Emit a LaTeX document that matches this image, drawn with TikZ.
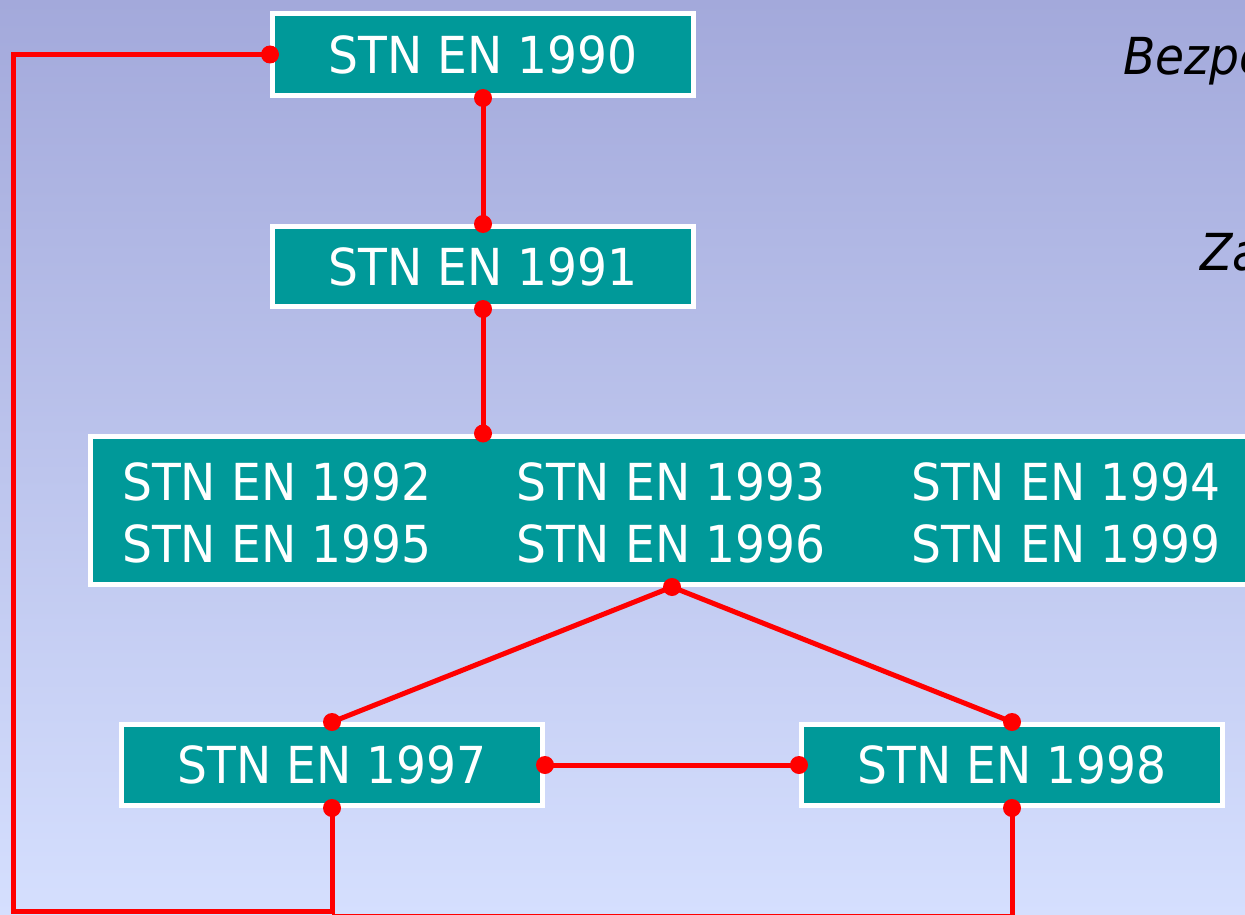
\documentclass[tikz,border=0pt]{standalone}
\usepackage{fontspec}
\setmainfont[FakeStretch=0.925]{DejaVu Sans}
\definecolor{boxteal}{RGB}{0,153,153}
\definecolor{bgtop}{RGB}{163,169,219}
\definecolor{bgmid}{RGB}{200,208,245}
\definecolor{bgbot}{RGB}{213,223,254}
\definecolor{linkred}{RGB}{255,0,0}
\tikzset{
  stnbox/.style={draw=white, line width=5pt, fill=boxteal, text=white, inner sep=0pt,
    font=\fontsize{51}{60}\selectfont},
  stntext/.style={text=white, inner sep=0pt, anchor=base west, font=\fontsize{51}{60}\selectfont},
  sidetext/.style={text=black, inner sep=0pt, anchor=base west, font=\fontsize{51}{60}\selectfont\itshape},
  link/.style={draw=linkred, line width=5pt},
  dotmark/.style={fill=linkred}
}
\begin{document}
\begin{tikzpicture}[x=1pt,y=-1pt]
\useasboundingbox (0,0) rectangle (1245,915);
\clip (0,0) rectangle (1245,915);
\shade[top color=bgtop, middle color=bgmid, bottom color=bgbot] (0,0) rectangle (1245,915);
\node[sidetext] (side1) at (1123,75) {Bezpe};
\node[sidetext] (side2) at (1200,270) {Za};
% boxes
\node[stnbox, minimum width=421pt, minimum height=82pt] (b1990) at (483,54.5) {STN EN 1990};
\node[stnbox, minimum width=421pt, minimum height=80pt] (b1991) at (483,266.5) {STN EN 1991};
\node[stnbox, minimum width=1164pt, minimum height=148.5pt] (big) at (672,510.25) {};
\node[stntext] (t1992) at (122,500) {STN EN 1992};
\node[stntext] (t1993) at (516,500) {STN EN 1993};
\node[stntext] (t1994) at (911,500) {STN EN 1994};
\node[stntext] (t1995) at (122,562) {STN EN 1995};
\node[stntext] (t1996) at (516,562) {STN EN 1996};
\node[stntext] (t1999) at (911,562) {STN EN 1999};
\node[stnbox, minimum width=421pt, minimum height=81pt] (b1997) at (332,765) {STN EN 1997};
\node[stnbox, minimum width=421pt, minimum height=81pt] (b1998) at (1012,765) {STN EN 1998};
% helper coordinates
\coordinate (bigtop) at (b1991.south |- big.north);
\coordinate (cornerTL) at (13,54.5);
\coordinate (cornerBL) at (13,911);
\coordinate (bottomL) at (332,911);
\coordinate (cornerBR) at (1012,916.5);
\coordinate (bottomR) at (332,916.5);
% connectors
\draw[link] (b1990.south) -- (b1991.north);
\draw[link] (b1991.south) -- (bigtop);
\draw[link] (big.south) -- (b1997.north);
\draw[link] (big.south) -- (b1998.north);
\draw[link] (b1997.east) -- (b1998.west);
\draw[link] (b1990.west) -- (cornerTL) -- (cornerBL) -- (bottomL) -- (b1997.south);
\draw[link] (b1998.south) -- (cornerBR) -- (bottomR);
% dots
\foreach \p in {b1990.west,b1990.south,b1991.north,b1991.south,bigtop,big.south,
  b1997.north,b1998.north,b1997.east,b1998.west,b1997.south,b1998.south}
  \fill[dotmark] (\p) circle[radius=9pt];
\end{tikzpicture}
\end{document}
